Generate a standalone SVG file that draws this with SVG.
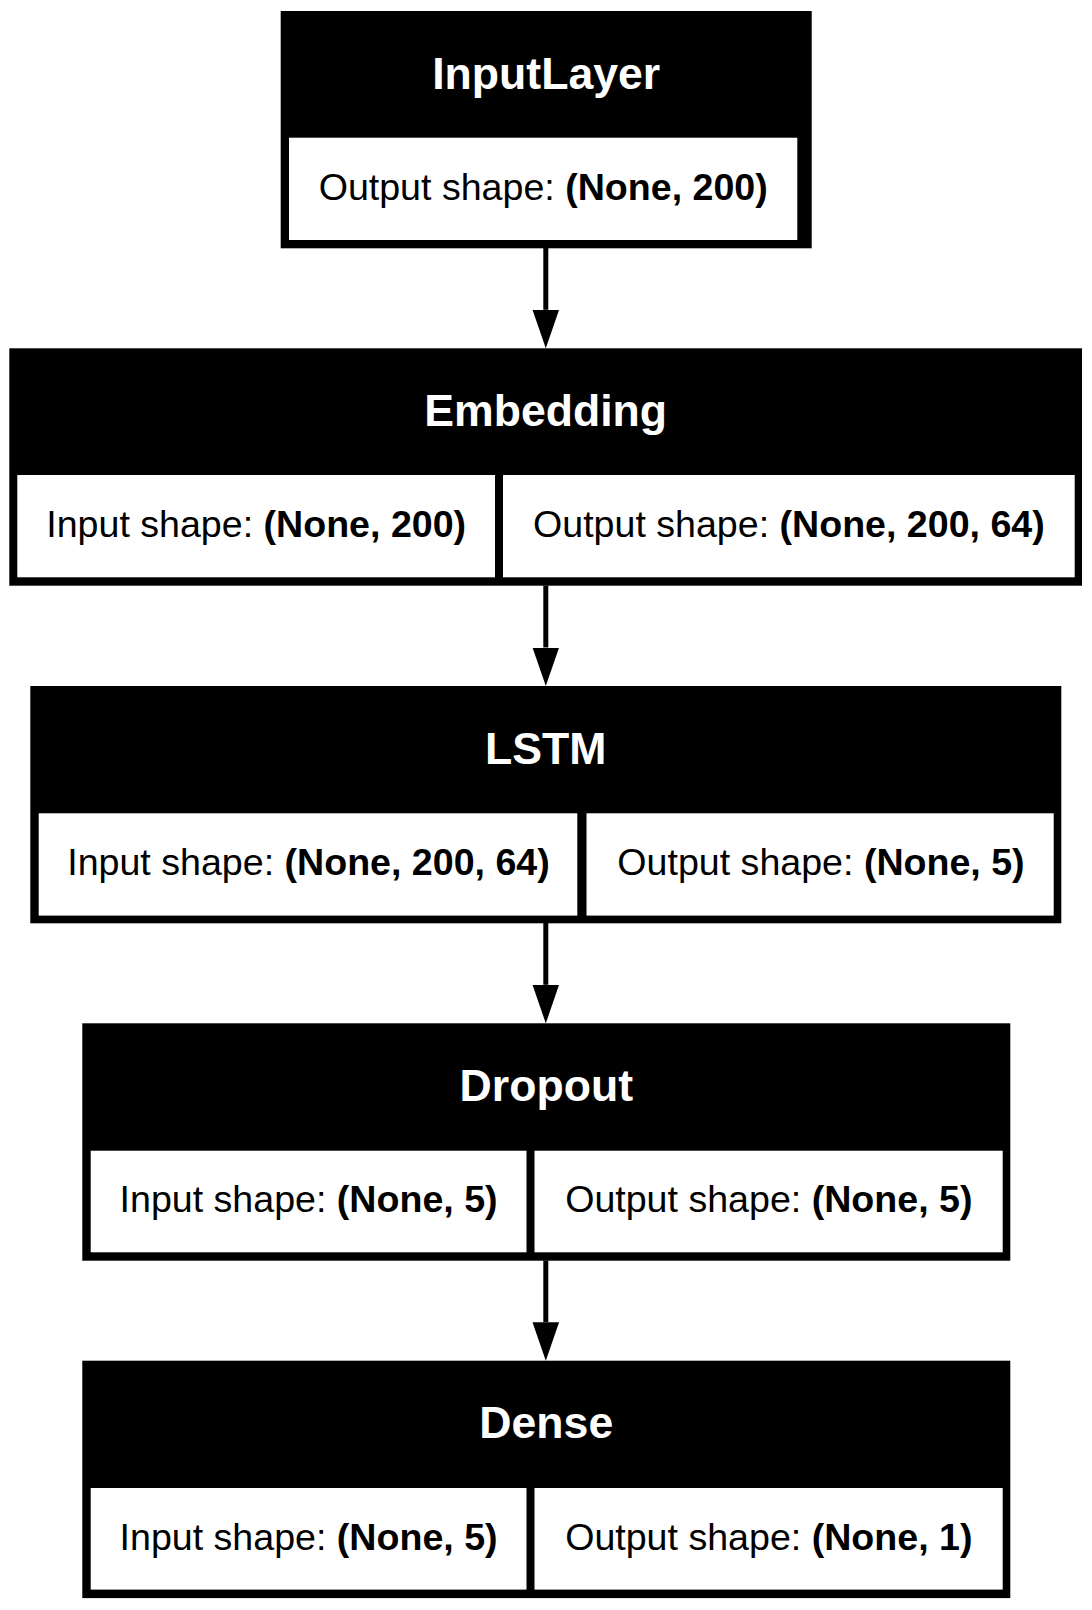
<svg xmlns="http://www.w3.org/2000/svg" width="1092" height="1610" viewBox="0 0 1092 1610">
<style>
.box { fill:#000; }
.cell { fill:#fff; }
.title { font-family:"Liberation Sans", Arial, sans-serif; font-weight:bold; font-size:44.6px; fill:#fff; text-anchor:middle; }
.lbl { font-family:"Liberation Sans", Arial, sans-serif; font-size:37.6px; fill:#000; text-anchor:middle; }
.b { font-weight:bold; }
.edge { stroke:#000; stroke-width:5; fill:none; }
</style>
<defs>
<marker id="arrow" markerUnits="userSpaceOnUse" viewBox="0 0 38.5 26.6" markerWidth="38.5" markerHeight="26.6" refX="0" refY="13.3" orient="auto">
<path d="M0,0 L38.5,13.3 L0,26.6 Z" fill="#000"/>
</marker>
</defs>
<rect x="0" y="0" width="1092" height="1610" fill="#fff"/>
<g id="connectors">
<line class="edge" x1="545.8" y1="248" x2="545.8" y2="309.8" marker-end="url(#arrow)"/>
<line class="edge" x1="545.8" y1="585.5" x2="545.8" y2="647.5" marker-end="url(#arrow)"/>
<line class="edge" x1="545.8" y1="923" x2="545.8" y2="984.8" marker-end="url(#arrow)"/>
<line class="edge" x1="545.8" y1="1260.5" x2="545.8" y2="1322.2" marker-end="url(#arrow)"/>
</g>
<g id="node-inputlayer">
<rect class="box" x="280.7" y="11" width="531" height="237.3"/>
<rect class="cell" x="289" y="137.7" width="508.3" height="102.3"/>
<text class="title" x="546.2" y="88.5">InputLayer</text>
<text class="lbl" x="543.2" y="200">Output shape: <tspan class="b">(None, 200)</tspan></text>
</g>
<g id="node-embedding">
<rect class="box" x="9.3" y="348.3" width="1072.7" height="237.4"/>
<rect class="cell" x="17.3" y="475" width="477.7" height="102.3"/>
<rect class="cell" x="503" y="475" width="571.7" height="102.3"/>
<text class="title" x="545.7" y="425.8">Embedding</text>
<text class="lbl" x="256.2" y="537.3">Input shape: <tspan class="b">(None, 200)</tspan></text>
<text class="lbl" x="788.9" y="537.3">Output shape: <tspan class="b">(None, 200, 64)</tspan></text>
</g>
<g id="node-lstm">
<rect class="box" x="30.3" y="686" width="1031" height="237.3"/>
<rect class="cell" x="38.7" y="813.3" width="538.6" height="102.3"/>
<rect class="cell" x="586.5" y="813.3" width="467.2" height="102.3"/>
<text class="title" x="545.8" y="763.5">LSTM</text>
<text class="lbl" x="308.5" y="875">Input shape: <tspan class="b">(None, 200, 64)</tspan></text>
<text class="lbl" x="821" y="875">Output shape: <tspan class="b">(None, 5)</tspan></text>
</g>
<g id="node-dropout">
<rect class="box" x="82.3" y="1023.3" width="928" height="237.4"/>
<rect class="cell" x="90.7" y="1150.7" width="435.8" height="101.6"/>
<rect class="cell" x="534.5" y="1150.7" width="468.2" height="101.6"/>
<text class="title" x="546.3" y="1100.8">Dropout</text>
<text class="lbl" x="308.6" y="1212.3">Input shape: <tspan class="b">(None, 5)</tspan></text>
<text class="lbl" x="768.8" y="1212.3">Output shape: <tspan class="b">(None, 5)</tspan></text>
</g>
<g id="node-dense">
<rect class="box" x="82.3" y="1360.7" width="928" height="237.4"/>
<rect class="cell" x="90.7" y="1488" width="435.8" height="101.6"/>
<rect class="cell" x="534.5" y="1488" width="468.2" height="101.6"/>
<text class="title" x="546.3" y="1438.2">Dense</text>
<text class="lbl" x="308.6" y="1549.7">Input shape: <tspan class="b">(None, 5)</tspan></text>
<text class="lbl" x="768.8" y="1549.7">Output shape: <tspan class="b">(None, 1)</tspan></text>
</g>
</svg>
